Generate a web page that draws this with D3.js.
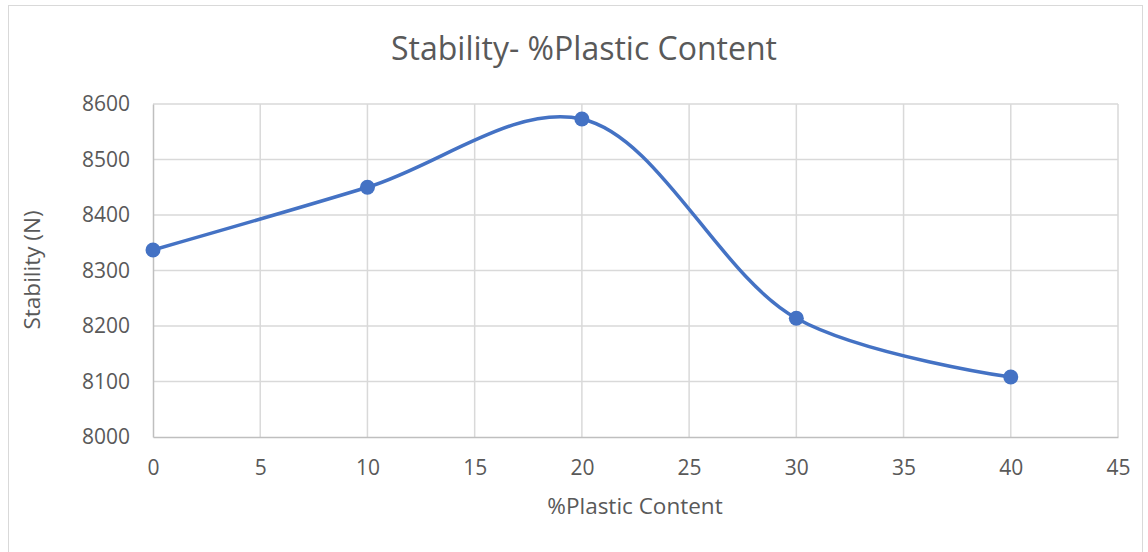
<!DOCTYPE html>
<html>
<head>
<meta charset="utf-8">
<script src="https://cdn.jsdelivr.net/npm/d3@7"></script>
<style>
body { margin: 0; background: #fff; }
text { font-family: "Open Sans", "Noto Sans", sans-serif; fill: #595959; }
</style>
</head>
<body>
<script>
// data
var plastic = [0, 10, 20, 30, 40];
var stability = [8337, 8450, 8573, 8214, 8108];
var xTicks = [0, 5, 10, 15, 20, 25, 30, 35, 40, 45];
var yTicks = [8000, 8100, 8200, 8300, 8400, 8500, 8600];

var width = 1148,
	height = 552;

var svg = d3.select("body").append("svg")
	.attr("width", width)
	.attr("height", height);

// chart border
svg.append("rect")
	.attr("x", 8.5).attr("y", 5.5)
	.attr("width", 1134).attr("height", 560)
	.attr("fill", "#fff")
	.attr("stroke", "#d9d9d9");

var x = d3.scaleLinear().domain([0, 45]).range([153, 1118]);
var y = d3.scaleLinear().domain([8000, 8600]).range([437, 104]);

// gridlines
svg.append("g").selectAll("line.h")
	.data(yTicks.slice(1))
	.enter().append("line")
	.attr("x1", x(0)).attr("x2", x(45))
	.attr("y1", function(d) { return y(d); })
	.attr("y2", function(d) { return y(d); })
	.attr("stroke", "#d9d9d9").attr("stroke-width", 1.5);

svg.append("g").selectAll("line.v")
	.data(xTicks.slice(1))
	.enter().append("line")
	.attr("y1", y(8000)).attr("y2", y(8600))
	.attr("x1", function(d) { return x(d); })
	.attr("x2", function(d) { return x(d); })
	.attr("stroke", "#d9d9d9").attr("stroke-width", 1.5);

// axes
var xAxis = svg.append("g")
	.attr("transform", "translate(0," + y(8000) + ")")
	.call(d3.axisBottom(x).tickValues(xTicks).tickSize(0).tickPadding(23));
var yAxis = svg.append("g")
	.attr("transform", "translate(" + x(0) + ",0)")
	.call(d3.axisLeft(y).tickValues(yTicks).tickFormat(d3.format("d")).tickSize(0).tickPadding(23));

[xAxis, yAxis].forEach(function(a) {
	a.select(".domain").attr("stroke", "#bfbfbf").attr("stroke-width", 1.5);
	a.selectAll("text").attr("font-size", 21).style("fill", "#595959")
		.style("font-family", "'Open Sans', sans-serif");
});

// smoothed line
var pts = plastic.map(function(d, i) { return [d, stability[i]]; });
var line = d3.line()
	.x(function(d) { return x(d[0]); })
	.y(function(d) { return y(d[1]); })
	.curve(d3.curveCatmullRom.alpha(0.5));

svg.append("path")
	.datum(pts)
	.attr("d", line)
	.attr("fill", "none")
	.attr("stroke", "#4472c4")
	.attr("stroke-width", 3.5);

svg.append("g").selectAll("circle")
	.data(pts)
	.enter().append("circle")
	.attr("cx", function(d) { return x(d[0]); })
	.attr("cy", function(d) { return y(d[1]); })
	.attr("r", 7.5)
	.attr("fill", "#4472c4");

// titles
svg.append("text")
	.attr("x", 584).attr("y", 60)
	.attr("text-anchor", "middle")
	.attr("font-size", 32)
	.text("Stability- %Plastic Content");

svg.append("text")
	.attr("x", 635).attr("y", 514)
	.attr("text-anchor", "middle")
	.attr("font-size", 22.5)
	.text("%Plastic Content");

svg.append("text")
	.attr("transform", "translate(40,270) rotate(-90)")
	.attr("text-anchor", "middle")
	.attr("font-size", 22.5)
	.text("Stability (N)");
</script>
</body>
</html>
